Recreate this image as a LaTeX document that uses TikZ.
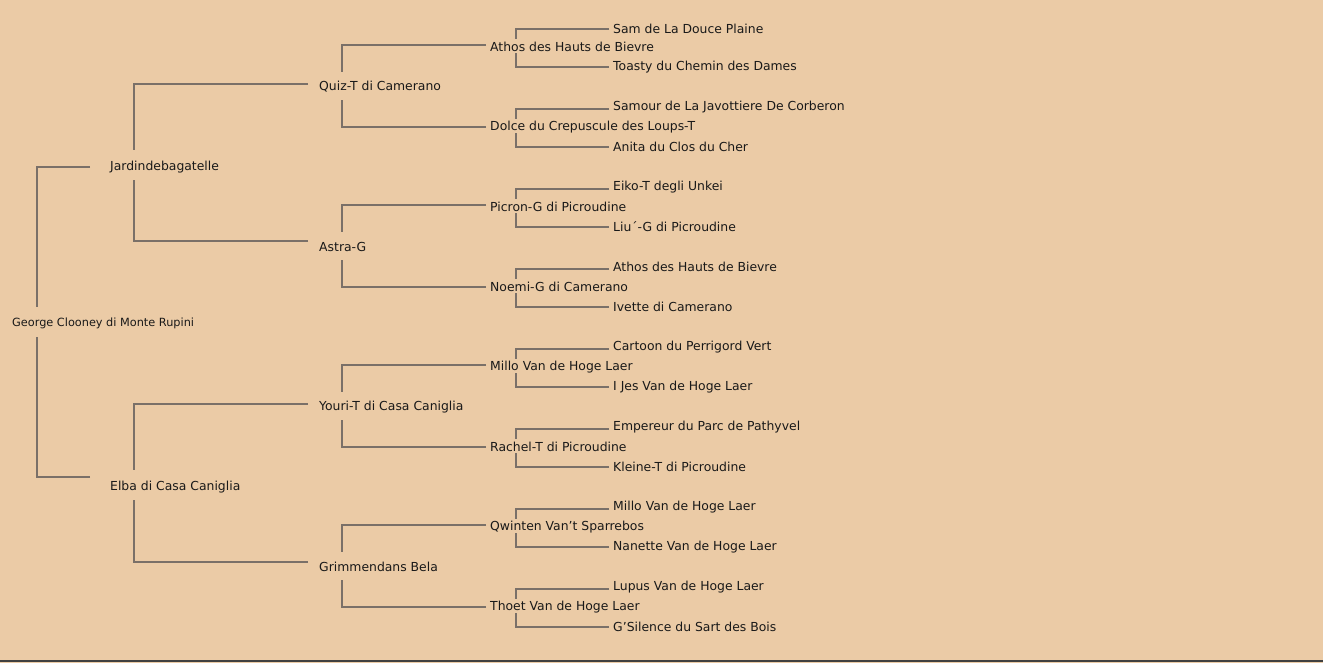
\documentclass[tikz,border=0pt]{standalone}
\usepackage{fontspec}
\setmainfont{DejaVu Sans}
\definecolor{bg}{HTML}{EBCBA6}
\definecolor{ln}{HTML}{7A7068}
\begin{document}
\begin{tikzpicture}[x=1pt,y=-1pt,
  nm/.style={anchor=west,inner sep=0pt,font=\fontsize{12.4}{14}\selectfont,text=black!90},
  br/.style={draw=ln,line width=1.5pt}]
\fill[bg] (0,0) rectangle (1323,663);
\useasboundingbox (0,0) rectangle (1323,663);
\draw[line width=2pt,black!75] (0,661) -- (1323,661);
% gen0
\node[nm,font=\fontsize{11.3}{13}\selectfont] (g0) at (12,323) {George Clooney di Monte Rupini};
\draw[br] (90,167) -| (37,307);
\draw[br] (90,477) -| (37,337);
% gen1
\node[nm] (j) at (110,167) {Jardindebagatelle};
\node[nm] (e) at (110,487) {Elba di Casa Caniglia};
\draw[br] (308,84) -| (134,150);
\draw[br] (308,241) -| (134,180);
\draw[br] (308,404) -| (134,470);
\draw[br] (308,562) -| (134,500);
% gen2
\foreach \y/\t in {86/Quiz-T di Camerano,246/Astra-G,406/Youri-T di Casa Caniglia,566/Grimmendans Bela}{
  \node[nm] at (319,\y+1) {\t};
  \draw[br] (486,\y-41) -| (342,\y-14);
  \draw[br] (486,\y+41) -| (342,\y+14);
}
% gen3
\foreach \y/\t in {46/Athos des Hauts de Bievre,126/Dolce du Crepuscule des Loups-T,206/Picron-G di Picroudine,286/Noemi-G di Camerano,366/Millo Van de Hoge Laer,446/Rachel-T di Picroudine,526/Qwinten Van{\textquoteright}t Sparrebos,606/Thoet Van de Hoge Laer}{
  \node[nm] at (490,\y+1) {\t};
  \draw[br] (609,\y-17) -| (516,\y-7);
  \draw[br] (609,\y+21) -| (516,\y+7);
}
% gen4
\foreach \y/\t in {28/Sam de La Douce Plaine,66/Toasty du Chemin des Dames,106/Samour de La Javottiere De Corberon,146/Anita du Clos du Cher,186/Eiko-T degli Unkei,226/Liu{\textasciiacute}-G di Picroudine,266/Athos des Hauts de Bievre,306/Ivette di Camerano,346/Cartoon du Perrigord Vert,386/I Jes Van de Hoge Laer,426/Empereur du Parc de Pathyvel,466/Kleine-T di Picroudine,506/Millo Van de Hoge Laer,546/Nanette Van de Hoge Laer,586/Lupus Van de Hoge Laer,626/G{\textquoteright}Silence du Sart des Bois}{
  \node[nm] at (613,\y+1) {\t};
}
\end{tikzpicture}
\end{document}
